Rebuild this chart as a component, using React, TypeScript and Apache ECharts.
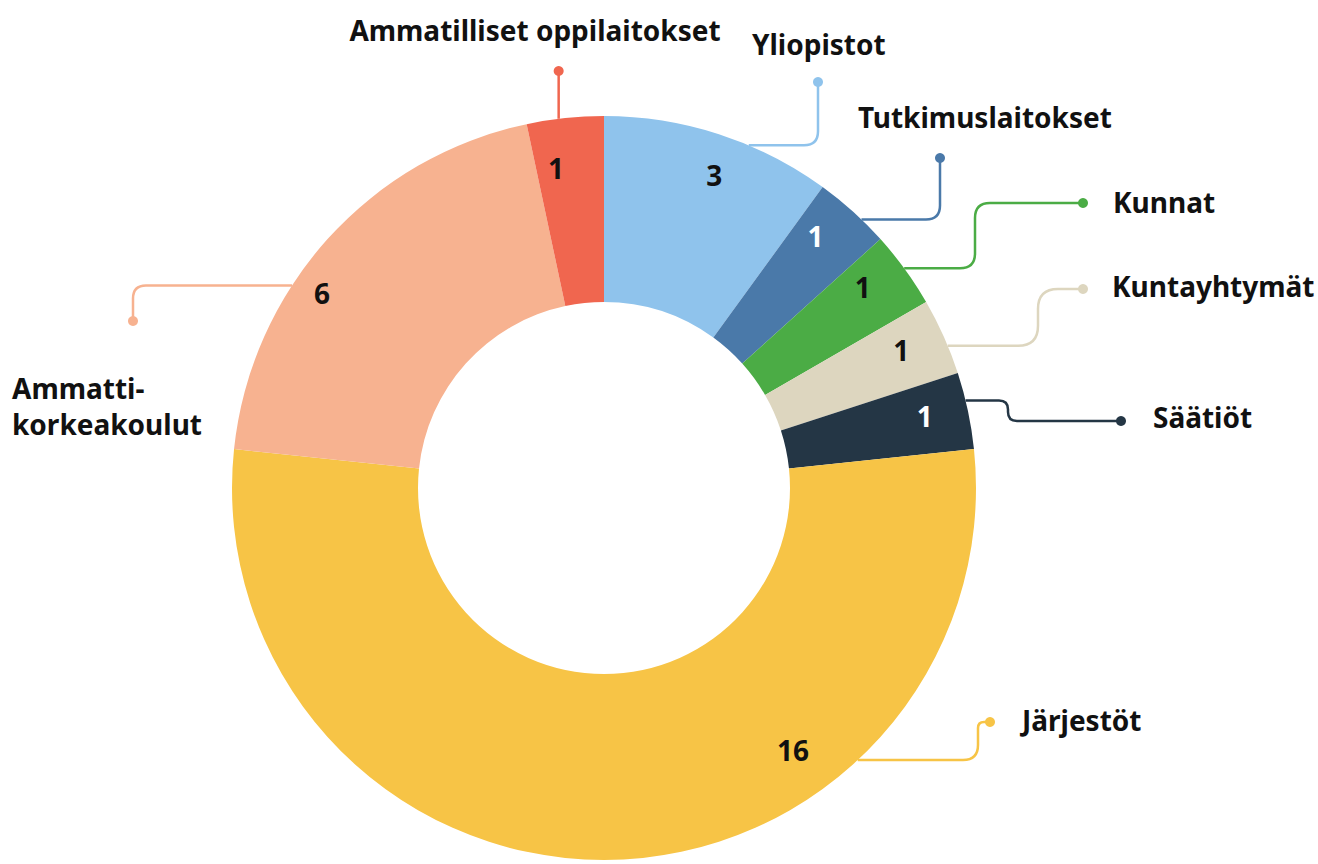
import { useEffect, useRef } from "react";
import * as echarts from "echarts";

// ---- data ----
const categories = [
  "Yliopistot",
  "Tutkimuslaitokset",
  "Kunnat",
  "Kuntayhtymät",
  "Säätiöt",
  "Järjestöt",
  "Ammattikorkeakoulut",
  "Ammatilliset oppilaitokset",
];
const values = [3, 1, 1, 1, 1, 16, 6, 1];
const displayNames: Record<string, string> = {
  Ammattikorkeakoulut: "Ammatti-\nkorkeakoulut",
};

// ---- style ----
const colors = ["#8fc3ec", "#4a79a9", "#4bac45", "#ddd6bf", "#243645", "#f7c446", "#f7b290", "#f0664f"];
const valueLabelColors = ["#111111", "#ffffff", "#111111", "#111111", "#ffffff", "#111111", "#111111", "#111111"];
const FONT = "'Noto Sans', sans-serif";

// ---- layout ----
const CX = 604;
const CY = 488;
const R_OUT = 372;
const R_IN = 186;
const R_VAL_IN = 284;

const nameLabelPos = [
  { x: 752, y: 44, align: "left" },
  { x: 858, y: 117, align: "left" },
  { x: 1113, y: 202, align: "left" },
  { x: 1112, y: 286, align: "left" },
  { x: 1153, y: 417, align: "left" },
  { x: 1022, y: 720, align: "left" },
  { x: 12, y: 406, align: "left" },
  { x: 535, y: 30, align: "center" },
];
const valueLabelOverride: Record<number, [number, number]> = {
  5: [793, 750],
  6: [322, 293],
  7: [556, 168],
};
const valueLabelNudge: Record<number, [number, number]> = {
  0: [8, 2],
  1: [-10, -6],
  2: [-9, -6],
  3: [-5, -3],
  4: [-3, -3],
};

// leader routes: start angle on outer rim (deg clockwise from top), then waypoints (null = reuse previous coordinate)
const leaderRoutes: { angle: number; pts: (number | null)[][]; r: number }[] = [
  { angle: 22.9, pts: [[818, null], [818, 82]], r: 14 },
  { angle: 43.8, pts: [[940, null], [940, 158]], r: 14 },
  { angle: 53.8, pts: [[975, null], [975, 203], [1083, 203]], r: 15 },
  { angle: 67.5, pts: [[1038, null], [1038, 289], [1083, 289]], r: 20 },
  { angle: 76.4, pts: [[1008, null], [1008, 421], [1121, 421]], r: 9 },
  { angle: 137, pts: [[978, null], [978, 722], [990, 722]], r: 15 },
  { angle: 303, pts: [[133, null], [133, 321]], r: 13 },
  { angle: 353, pts: [[null, 71]], r: 0 },
];

function buildPath(points: number[][], cr: number): string {
  let d = `M${points[0][0]},${points[0][1]}`;
  for (let i = 1; i < points.length - 1; i++) {
    const p0 = points[i - 1], p1 = points[i], p2 = points[i + 1];
    const l1 = Math.hypot(p1[0] - p0[0], p1[1] - p0[1]);
    const l2 = Math.hypot(p2[0] - p1[0], p2[1] - p1[1]);
    const r = Math.min(cr, l1 / 2, l2 / 2);
    const a = [p1[0] - ((p1[0] - p0[0]) / l1) * r, p1[1] - ((p1[1] - p0[1]) / l1) * r];
    const b = [p1[0] + ((p2[0] - p1[0]) / l2) * r, p1[1] + ((p2[1] - p1[1]) / l2) * r];
    d += ` L${a[0]},${a[1]} Q${p1[0]},${p1[1]} ${b[0]},${b[1]}`;
  }
  const last = points[points.length - 1];
  d += ` L${last[0]},${last[1]}`;
  return d;
}

function routePoints(i: number): number[][] {
  const route = leaderRoutes[i];
  const a = (route.angle * Math.PI) / 180;
  const start = [CX + R_OUT * Math.sin(a), CY - R_OUT * Math.cos(a)];
  const pts: number[][] = [start];
  let prev = start;
  for (const p of route.pts) {
    const q = [p[0] == null ? prev[0] : (p[0] as number), p[1] == null ? prev[1] : (p[1] as number)];
    pts.push(q);
    prev = q;
  }
  return pts;
}

export default function App() {
  const ref = useRef<HTMLDivElement>(null);
  useEffect(() => {
    if (!ref.current) return;
    const chart = echarts.init(ref.current, null, { renderer: "svg" });
    const pieData = categories.map((name, i) => ({
      name,
      value: values[i],
      itemStyle: { color: colors[i] },
    }));
    chart.setOption({
      animation: false,
      backgroundColor: "#ffffff",
      series: [
        {
          type: "custom",
          coordinateSystem: "none",
          z: 1,
          silent: true,
          data: categories.map((_, i) => [i]),
          renderItem: (params: any) => {
            const i = params.dataIndex;
            const pts = routePoints(i);
            const last = pts[pts.length - 1];
            return {
              type: "group",
              children: [
                {
                  type: "path",
                  shape: { pathData: buildPath(pts, leaderRoutes[i].r) },
                  style: { stroke: colors[i], fill: "none", lineWidth: 2.5 },
                },
                {
                  type: "circle",
                  shape: { cx: last[0], cy: last[1], r: 5 },
                  style: { fill: colors[i] },
                },
              ],
            };
          },
        },
        {
          type: "pie",
          z: 2,
          center: [CX, CY],
          radius: [R_IN, R_OUT],
          startAngle: 90,
          clockwise: true,
          avoidLabelOverlap: false,
          silent: true,
          itemStyle: { borderWidth: 0 },
          data: pieData,
          label: {
            show: true,
            position: "outside",
            formatter: (p: any) => displayNames[p.name] || p.name,
            fontFamily: FONT,
            fontWeight: "bold",
            fontSize: 28,
            lineHeight: 36,
            color: "#111111",
          },
          labelLine: { show: false },
          labelLayout: (params: any) => {
            const p = nameLabelPos[params.dataIndex];
            return { x: p.x, y: p.y, align: p.align, verticalAlign: "middle" };
          },
        },
        {
          type: "pie",
          z: 3,
          center: [CX, CY],
          radius: [R_VAL_IN, R_OUT],
          startAngle: 90,
          clockwise: true,
          silent: true,
          avoidLabelOverlap: false,
          itemStyle: { color: "rgba(0,0,0,0)", borderWidth: 0 },
          data: categories.map((name, i) => ({
            name,
            value: values[i],
            label: { color: valueLabelColors[i] },
          })),
          label: {
            show: true,
            position: "inside",
            formatter: "{c}",
            fontFamily: FONT,
            fontWeight: "bold",
            fontSize: 28,
          },
          labelLine: { show: false },
          labelLayout: (params: any) => {
            const o = valueLabelOverride[params.dataIndex];
            if (o) return { x: o[0], y: o[1], align: "center", verticalAlign: "middle" };
            const n = valueLabelNudge[params.dataIndex];
            if (n) return { dx: n[0], dy: n[1] };
            return {};
          },
        },
      ],
    });
    return () => chart.dispose();
  }, []);
  return (
    <div
      ref={ref}
      style={{ position: "fixed", left: 0, top: 0, width: 1318, height: 864, background: "#fff" }}
    />
  );
}
